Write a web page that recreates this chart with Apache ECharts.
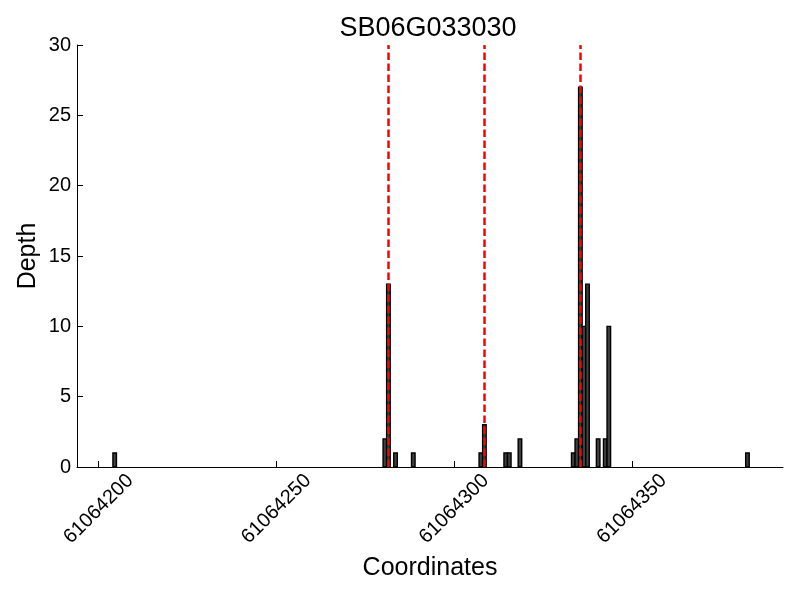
<!DOCTYPE html>
<html>
<head>
<meta charset="utf-8">
<script src="https://cdn.jsdelivr.net/npm/echarts@6/dist/echarts.min.js"></script>
<style>html,body{margin:0;padding:0;background:#fff}#c{width:800px;height:600px}</style>
</head>
<body>
<div id="c"></div>
<script>
const title = 'SB06G033030';
const positions = [61064204, 61064280, 61064281, 61064283, 61064288, 61064307, 61064308, 61064314, 61064315, 61064318, 61064333, 61064334, 61064335, 61064336, 61064337, 61064340, 61064342, 61064343, 61064382];
const depths = [1, 2, 13, 1, 1, 1, 3, 1, 1, 2, 1, 2, 27, 10, 13, 2, 2, 10, 1];
const markers = [61064281.5, 61064308.5, 61064335.5];
const xTicks = [61064200, 61064250, 61064300, 61064350];
const yTicks = [0, 5, 10, 15, 20, 25, 30];

const FONT = 'Liberation Sans';
const data = positions.map((p, i) => [p, depths[i]]);

const chart = echarts.init(document.getElementById('c'), null, {renderer: 'canvas'});
chart.setOption({
  animation: false,
  backgroundColor: '#fff',
  title: {
    text: title, left: 423, top: 10, textAlign: 'center',
    textStyle: {fontFamily: FONT, fontSize: 27, fontWeight: 'normal', color: '#000'}
  },
  grid: {left: 77, right: 17, top: 45, bottom: 133, containLabel: false},
  xAxis: {
    type: 'value', min: 61064193.9, max: 61064392.5,
    name: 'Coordinates', nameLocation: 'middle', nameGap: 89, nameMoveOverlap: false,
    nameTextStyle: {fontFamily: FONT, fontSize: 25, color: '#000'},
    axisLine: {show: true, onZero: false, lineStyle: {color: '#000', width: 1}},
    axisTick: {show: true, inside: true, length: 6, customValues: xTicks, lineStyle: {color: '#000'}},
    axisLabel: {
      show: true, rotate: 45, customValues: xTicks, margin: 42,
      align: 'center', verticalAlign: 'middle',
      fontFamily: FONT, fontSize: 20, color: '#000',
      formatter: v => String(Math.round(v))
    },
    splitLine: {show: false}
  },
  yAxis: {
    type: 'value', min: 0, max: 30, interval: 5,
    name: 'Depth', nameLocation: 'middle', nameGap: 36, nameMoveOverlap: false,
    nameTextStyle: {fontFamily: FONT, fontSize: 25, color: '#000'},
    axisLine: {show: true, lineStyle: {color: '#000', width: 1}},
    axisTick: {show: true, inside: true, length: 6, lineStyle: {color: '#000'}},
    axisLabel: {show: true, margin: 6, fontFamily: FONT, fontSize: 20, color: '#000',
      formatter: v => yTicks.includes(v) ? String(v) : ''},
    splitLine: {show: false}
  },
  series: [{
    type: 'custom',
    data: data,
    encode: {x: 0, y: 1},
    renderItem: function (params, api) {
      const x = api.value(0), v = api.value(1);
      const p0 = api.coord([x, v]);
      const p1 = api.coord([x + 1, 0]);
      return {
        type: 'rect',
        shape: {x: p0[0], y: p0[1], width: p1[0] - p0[0], height: p1[1] - p0[1]},
        style: {fill: '#404040', stroke: '#000', lineWidth: 1.4}
      };
    },
    markLine: {
      silent: true, symbol: 'none', animation: false,
      label: {show: false},
      lineStyle: {color: '#ff0000', type: [7.5, 3.5], width: 2.5, opacity: 1},
      data: markers.map(m => ({xAxis: m}))
    },
    z: 2
  }]
});
</script>
</body>
</html>
